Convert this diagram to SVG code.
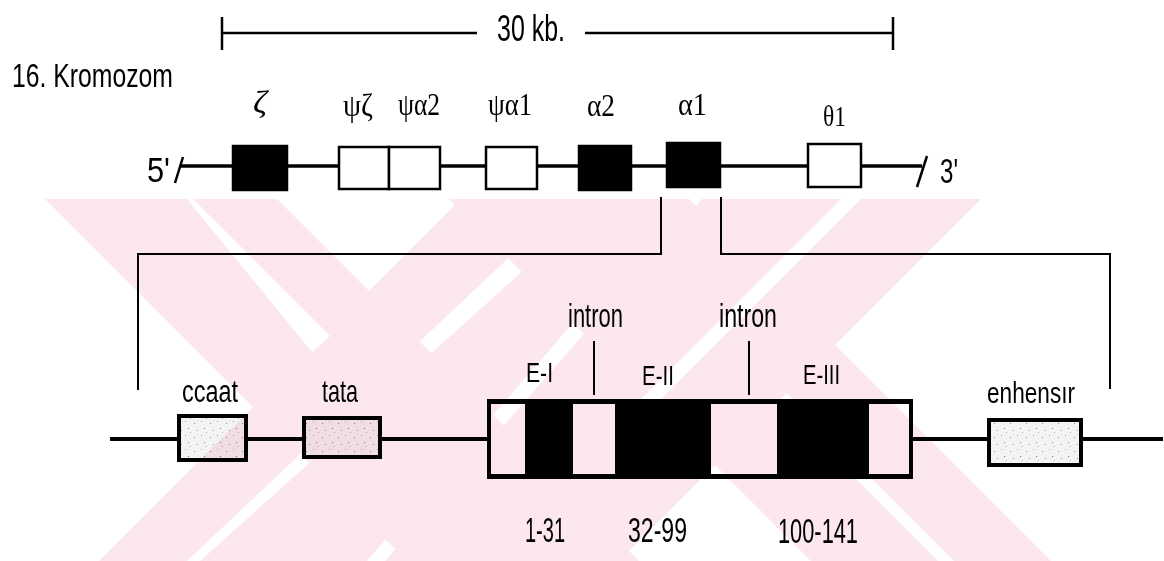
<svg xmlns="http://www.w3.org/2000/svg" width="1164" height="561" viewBox="0 0 1164 561">
<style>
.t{font-family:"Liberation Sans Narrow","Liberation Sans",Arial,sans-serif;fill:#000}
.g{font-family:"Liberation Serif","DejaVu Serif",serif;fill:#000}
.ln{stroke:#000;fill:none}
.wb{fill:#fff;stroke:#000;stroke-width:2.5}
.bb{fill:#000;stroke:#000;stroke-width:2.5}
.db{fill:url(#dots);stroke:#000;stroke-width:4}
.pk{fill:#fce8ec}
.wh{fill:#fff}
</style>
<defs>
<pattern id="dots" width="16" height="14" patternUnits="userSpaceOnUse">
<rect width="16" height="14" fill="#f3f3f3"/>
<rect x="2" y="3" width="1" height="1" fill="#888"/>
<rect x="9" y="1" width="1" height="1" fill="#aaa"/>
<rect x="12" y="8" width="1" height="1" fill="#777"/>
<rect x="5" y="10" width="1" height="1" fill="#999"/>
<rect x="14" y="12" width="1" height="1" fill="#bbb"/>
</pattern>
<clipPath id="wmclip"><rect x="0" y="199" width="1164" height="362"/></clipPath>
</defs>
<rect width="1164" height="561" fill="#fff"/>

<g id="scale">
<line class="ln" x1="222" y1="33" x2="477" y2="33" stroke-width="2.5"/>
<line class="ln" x1="585" y1="33" x2="893" y2="33" stroke-width="2.5"/>
<line class="ln" x1="222" y1="17" x2="222" y2="50" stroke-width="2.5"/>
<line class="ln" x1="893" y1="17" x2="893" y2="50" stroke-width="2.5"/>
<text class="t" x="497" y="41" font-size="37" textLength="68" lengthAdjust="spacingAndGlyphs">30 kb.</text>
</g>
<text id="title" class="t" x="12" y="87" font-size="34" textLength="161" lengthAdjust="spacingAndGlyphs">16. Kromozom</text>

<g id="chromosome">
<line class="ln" x1="181" y1="166" x2="922" y2="166" stroke-width="3.5"/>
<line class="ln" x1="175" y1="183" x2="183" y2="157" stroke-width="2.5"/>
<line class="ln" x1="917" y1="187" x2="927" y2="156" stroke-width="2.5"/>
<text class="t" x="147" y="182" font-size="35" textLength="23" lengthAdjust="spacingAndGlyphs">5'</text>
<text class="t" x="940" y="183" font-size="35" textLength="18" lengthAdjust="spacingAndGlyphs">3'</text>
</g>
<g id="zeta"><rect class="bb" x="233" y="146" width="54" height="44"/><text class="g" x="253" y="113" font-size="32" font-style="italic" textLength="14" lengthAdjust="spacingAndGlyphs">ζ</text></g>
<g id="psizeta"><rect class="wb" x="339" y="147" width="50" height="42"/><text class="g" x="343" y="116" font-size="32" textLength="30" lengthAdjust="spacingAndGlyphs">ψζ</text></g>
<g id="psialpha2"><rect class="wb" x="389" y="147" width="51" height="42"/><text class="g" x="398" y="115" font-size="32" textLength="42" lengthAdjust="spacingAndGlyphs">ψα2</text></g>
<g id="psialpha1"><rect class="wb" x="486" y="147" width="51" height="42"/><text class="g" x="488" y="115" font-size="32" textLength="44" lengthAdjust="spacingAndGlyphs">ψα1</text></g>
<g id="alpha2"><rect class="bb" x="579" y="146" width="52" height="44"/><text class="g" x="587" y="116" font-size="32" textLength="28" lengthAdjust="spacingAndGlyphs">α2</text></g>
<g id="alpha1"><rect class="bb" x="667" y="143" width="53" height="44"/><text class="g" x="678" y="115" font-size="32" textLength="29" lengthAdjust="spacingAndGlyphs">α1</text></g>
<g id="theta1"><rect class="wb" x="808" y="144" width="53" height="43"/><text class="g" x="823" y="126" font-size="30" textLength="23" lengthAdjust="spacingAndGlyphs">θ1</text></g>

<g id="connectors">
<polyline class="ln" stroke-width="2" points="661,197 661,254 138,254 138,390"/>
<polyline class="ln" stroke-width="2" points="721,197 721,254 1110,254 1110,389"/>
<line class="ln" x1="110" y1="439" x2="1163" y2="439" stroke-width="4"/>
</g>

<g id="ccaat"><rect class="db" x="179" y="416" width="67" height="44"/><text class="t" x="182" y="402" font-size="31" textLength="56" lengthAdjust="spacingAndGlyphs">ccaat</text></g>
<g id="tata"><rect class="db" x="304" y="418" width="76" height="39"/><text class="t" x="322" y="402" font-size="32" textLength="36" lengthAdjust="spacingAndGlyphs">tata</text></g>
<g id="enhensir"><rect class="db" x="989" y="420" width="92" height="45"/><text class="t" x="987" y="403" font-size="29" textLength="88" lengthAdjust="spacingAndGlyphs">enhensır</text></g>

<g id="gene">
<rect x="487" y="399" width="426" height="80" fill="#000"/>
<rect x="491" y="404" width="34" height="70" fill="#fff"/>
<rect x="573" y="404" width="42" height="70" fill="#fff"/>
<rect x="711" y="404" width="66" height="70" fill="#fff"/>
<rect x="869" y="404" width="40" height="70" fill="#fff"/>
<line class="ln" x1="594" y1="341" x2="594" y2="395" stroke-width="2"/>
<line class="ln" x1="749" y1="341" x2="749" y2="395" stroke-width="2"/>
<text class="t" x="568" y="327" font-size="33" textLength="55" lengthAdjust="spacingAndGlyphs">intron</text>
<text class="t" x="719" y="327" font-size="33" textLength="58" lengthAdjust="spacingAndGlyphs">intron</text>
<text class="t" x="526" y="382" font-size="28" textLength="27" lengthAdjust="spacingAndGlyphs">E-I</text>
<text class="t" x="642" y="385" font-size="28" textLength="32" lengthAdjust="spacingAndGlyphs">E-II</text>
<text class="t" x="803" y="384" font-size="28" textLength="37" lengthAdjust="spacingAndGlyphs">E-III</text>
<text class="t" x="525" y="542" font-size="35" textLength="40" lengthAdjust="spacingAndGlyphs">1-31</text>
<text class="t" x="628" y="542" font-size="35" textLength="59" lengthAdjust="spacingAndGlyphs">32-99</text>
<text class="t" x="778" y="543" font-size="35" textLength="80" lengthAdjust="spacingAndGlyphs">100-141</text>
</g>

<g id="watermark" clip-path="url(#wmclip)" style="mix-blend-mode:multiply">
<polygon class="pk" points="461,199 981,199 619,561 99,561"/>
<polygon class="wh" points="571,199 603,199 200,561 187,561"/>
<polygon class="wh" points="680,199 702,199 385,561 367,561"/>
<polygon class="pk" points="45,199 277,199 639,561 407,561"/>
<polygon class="pk" points="449,199 689,199 1051,561 811,561"/>
<polygon class="wh" points="841,199 861,199 640,420 620,420"/>
<polygon class="wh" points="187,199 193,199 330,336 312,352"/>
<polygon class="wh" points="778.5,401.5 786.5,393.5 954,561 938,561"/>
</g>
</svg>
